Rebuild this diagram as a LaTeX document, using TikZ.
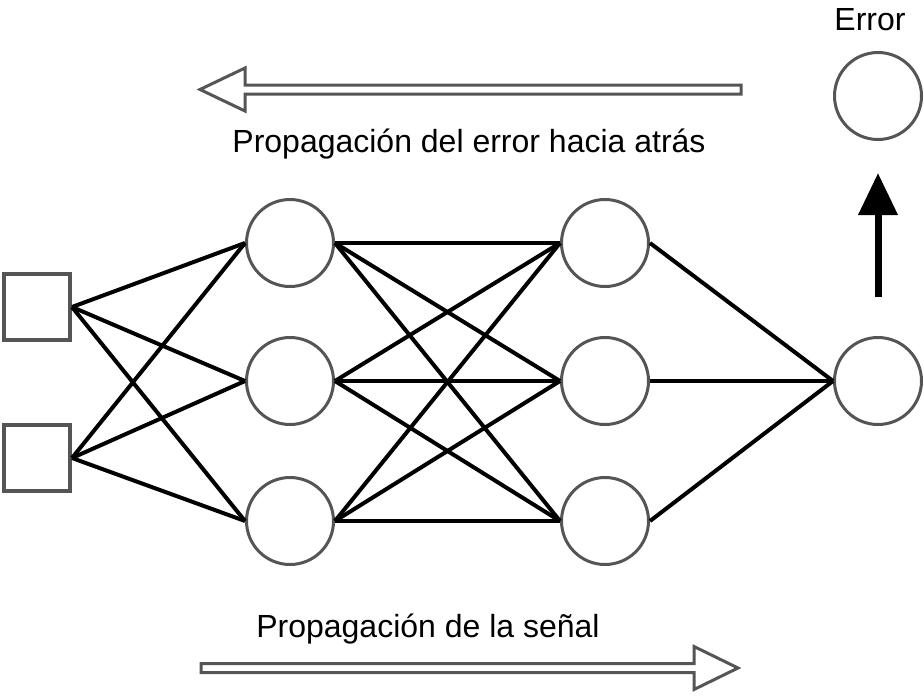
\documentclass[tikz,border=0pt]{standalone}
\usepackage{fontspec}
\setmainfont{Liberation Sans}
\usetikzlibrary{arrows.meta}

\definecolor{edgegray}{HTML}{555555}

\begin{document}
\begin{tikzpicture}[x=1pt, y=-1pt,
    neuron/.style={circle, draw=edgegray, line width=3pt, minimum size=87pt, inner sep=0pt},
    inputbox/.style={rectangle, draw=edgegray, line width=4pt, minimum size=66pt, inner sep=0pt},
    link/.style={line width=4pt},
    txt/.style={font=\fontsize{32}{36}\selectfont, inner sep=0pt},
    hollow/.style={draw=edgegray, line width=3pt, line join=miter}]

  \useasboundingbox (0,0) rectangle (924,699);

  % inputs
  \node[inputbox] (in1) at (37,307) {};
  \node[inputbox] (in2) at (37,458) {};

  % two hidden layers
  \foreach \i/\y in {1/243, 2/381, 3/521}
    {
      \node[neuron] (a\i) at (290,\y) {};
      \node[neuron] (b\i) at (605,\y) {};
    }

  \node[neuron] (out) at (878,381) {};
  \node[neuron] (err) at (878,96) {};
  \node[txt, anchor=base] (errlbl) at (870,30) {Error};

  \foreach \i in {1,2}
    \foreach \j in {1,2,3}
      \draw[link] (in\i.east) -- (a\j.west);

  \foreach \i in {1,2,3}
    {
      \foreach \j in {1,2,3}
        \draw[link] (a\i.east) -- (b\j.west);
      \draw[link] (b\i.east) -- (out.west);
    }

  \draw[line width=7pt, -{Triangle[width=38pt, length=42pt]}, shorten <=39pt, shorten >=32pt] (out.north) -- (err.south);

  % big hollow arrows
  \draw[hollow] (200,89.5) -- (245,68) -- (245,85) -- (741,85) -- (741,94) -- (245,94) -- (245,111) -- cycle;
  \draw[hollow] (738,668) -- (694,646.5) -- (694,663.5) -- (201,663.5) -- (201,672.5) -- (694,672.5) -- (694,689.5) -- cycle;

  \node[txt, anchor=base] (backlbl) at (469,152) {Propagación del error hacia atrás};
  \node[txt, anchor=base] (fwdlbl) at (428,637) {Propagación de la señal};

\end{tikzpicture}
\end{document}
